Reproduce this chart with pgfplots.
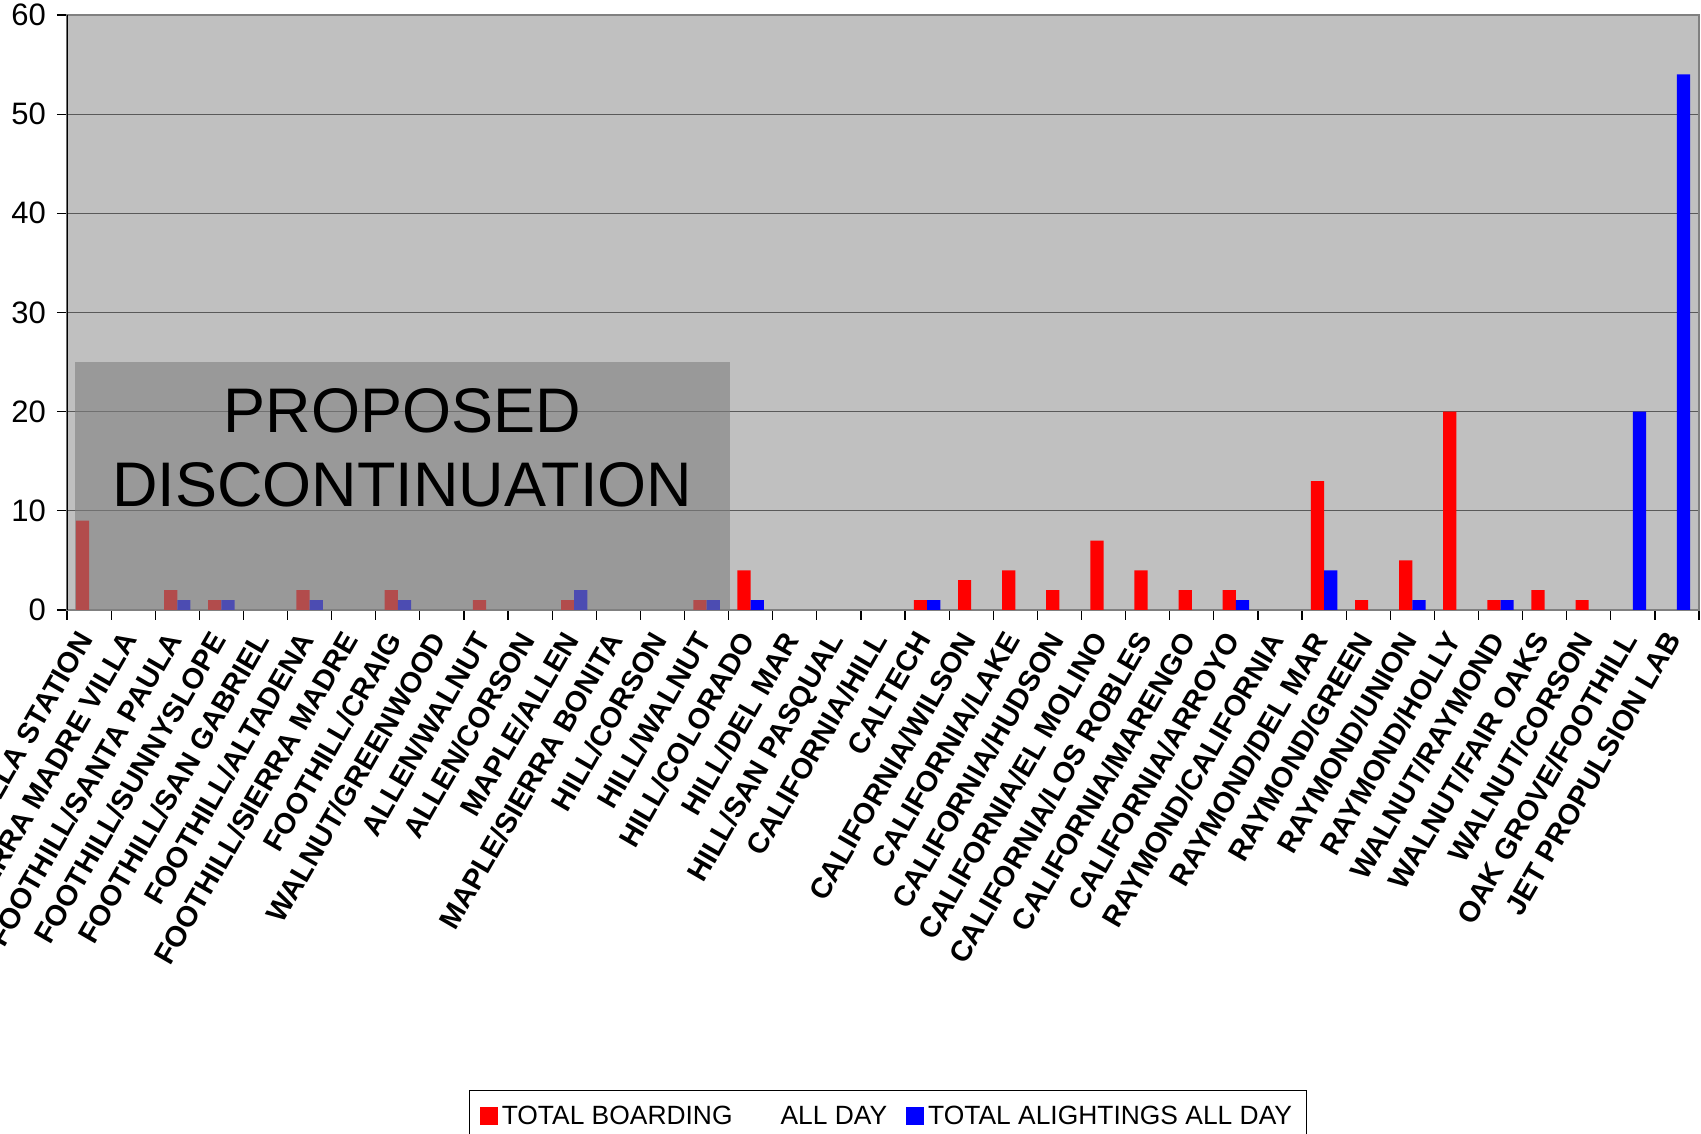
\documentclass[border=0pt]{standalone}
\usepackage{fontspec}
\setmainfont{Liberation Sans}
\usepackage{pgfplots}
\pgfplotsset{compat=1.18}
\usepackage{pgfplotstable}

\definecolor{plotbg}{RGB}{192,192,192}
\definecolor{veil}{RGB}{128,128,128}
\definecolor{boardred}{RGB}{255,0,0}
\definecolor{alightblue}{RGB}{0,0,255}

% x = stop index, board = total boarding all day, alight = total alightings all day
\pgfplotstableread{
x board alight
0 9 0
1 0 0
2 2 1
3 1 1
4 0 0
5 2 1
6 0 0
7 2 1
8 0 0
9 1 0
10 0 0
11 1 2
12 0 0
13 0 0
14 1 1
15 4 1
16 0 0
17 0 0
18 0 0
19 1 1
20 3 0
21 4 0
22 2 0
23 7 0
24 4 0
25 2 0
26 2 1
27 0 0
28 13 4
29 1 0
30 5 1
31 20 0
32 1 1
33 2 0
34 1 0
35 0 20
36 0 54
}\ridership

\pgfplotsset{sqlegend/.style={legend image code/.code={
  \fill[##1] (0pt,-4pt) rectangle (9pt,5pt);}}}

\begin{document}
\begin{tikzpicture}
\begin{axis}[
  scale only axis,
  width=816pt, height=297.5pt,
  ybar=0pt, bar width=6.6pt,
  xmin=-0.5, xmax=36.5, ymin=0, ymax=60,
  xtick={-0.5,0.5,...,36.5},
  x tick label as interval,
  xticklabels={SIERRA MADRE VILLA STATION,SIERRA MADRE VILLA,FOOTHILL/SANTA PAULA,FOOTHILL/SUNNYSLOPE,FOOTHILL/SAN GABRIEL,FOOTHILL/ALTADENA,FOOTHILL/SIERRA MADRE,FOOTHILL/CRAIG,WALNUT/GREENWOOD,ALLEN/WALNUT,ALLEN/CORSON,MAPLE/ALLEN,MAPLE/SIERRA BONITA,HILL/CORSON,HILL/WALNUT,HILL/COLORADO,HILL/DEL MAR,HILL/SAN PASQUAL,CALIFORNIA/HILL,CALTECH,CALIFORNIA/WILSON,CALIFORNIA/LAKE,CALIFORNIA/HUDSON,CALIFORNIA/EL MOLINO,CALIFORNIA/LOS ROBLES,CALIFORNIA/MARENGO,CALIFORNIA/ARROYO,RAYMOND/CALIFORNIA,RAYMOND/DEL MAR,RAYMOND/GREEN,RAYMOND/UNION,RAYMOND/HOLLY,WALNUT/RAYMOND,WALNUT/FAIR OAKS,WALNUT/CORSON,OAK GROVE/FOOTHILL,JET PROPULSION LAB},
  xticklabel style={xshift=-6.5pt, yshift=-4.5pt, rotate=60, anchor=north east, inner sep=0pt,
    font=\bfseries\fontsize{14.5}{15}\selectfont},
  ytick={0,10,...,60},
  yticklabel style={xshift=-2pt, font=\fontsize{15.5}{16}\selectfont},
  /pgf/number format/assume math mode=true,
  xtick pos=bottom, ytick pos=left,
  ymajorgrids, grid style={black!65, line width=0.6pt},
  tick align=outside, major tick length=5pt,
  tick style={black, line width=0.6pt},
  axis line style={black!50, line width=0.8pt},
  axis background/.style={fill=plotbg},
  unbounded coords=discard,
  y filter/.expression={y==0 ? nan : y},
  legend columns=2,
  legend style={at={(0.503,-0.807)}, anchor=north, draw=black, fill=white,
    font=\fontsize{13.2}{14}\selectfont, inner xsep=5pt, inner ysep=6pt,
    /tikz/every even column/.append style={column sep=7.5pt}},
]
\addplot[draw=none, fill=boardred, sqlegend] table[x=x, y=board] {\ridership};
\addplot[draw=none, fill=alightblue, sqlegend] table[x=x, y=alight] {\ridership};
\legend{TOTAL BOARDING\hspace{24pt}ALL DAY, TOTAL ALIGHTINGS ALL DAY}

\fill[veil, opacity=0.6] (axis cs:-0.32,0) rectangle (axis cs:14.53,25);
\node[font=\fontsize{31.5}{37}\selectfont, align=center] at (axis cs:7.1,16.4)
  {PROPOSED\\DISCONTINUATION};
\draw[black, line width=0.8pt] (axis cs:-0.5,0) -- (axis cs:-0.5,60);
\end{axis}
\pgfresetboundingbox
\path[use as bounding box] ([xshift=-33.5pt, yshift=-262pt]current axis.south west)
  rectangle ([xshift=1pt, yshift=7.5pt]current axis.north east);
\end{tikzpicture}
\end{document}
